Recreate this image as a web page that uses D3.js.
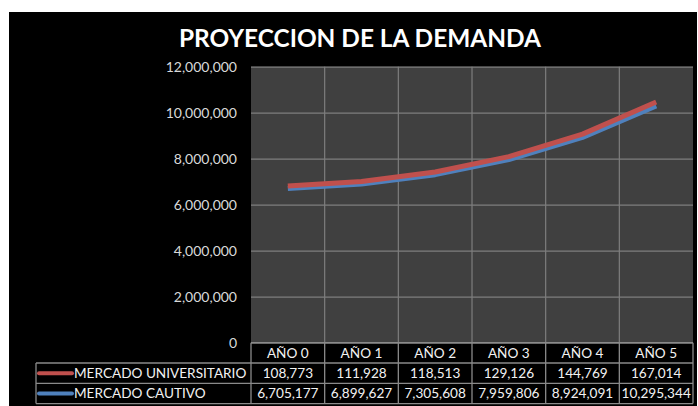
<!DOCTYPE html>
<html>
<head>
<meta charset="utf-8">
<script src="https://d3js.org/d3.v7.min.js"></script>
<style>
	body { margin: 0; background: #ffffff; }
	svg text { font-family: Lato, "Open Sans", sans-serif; }
</style>
</head>
<body>
<div id="chartDiv"></div>
<script>

// Data:

var years         = ["AÑO 0", "AÑO 1", "AÑO 2", "AÑO 3", "AÑO 4", "AÑO 5"];
var universitario = [108773, 111928, 118513, 129126, 144769, 167014];
var cautivo       = [6705177, 6899627, 7305608, 7959806, 8924091, 10295344];
var yTicks        = [0, 2000000, 4000000, 6000000, 8000000, 10000000, 12000000];

var seriesNames   = ["MERCADO UNIVERSITARIO", "MERCADO CAUTIVO"];
var seriesKeys    = ["universitario", "cautivo"];
var seriesColors  = { universitario: "#c0504d", cautivo: "#4f81bd" };

// Layout constants
var WIDTH      = 698;
var HEIGHT     = 406;
var PLOT_LEFT  = 251;
var PLOT_RIGHT = 693;
var PLOT_TOP   = 66.7;
var PLOT_BOT   = 342.7;
var ROW_H      = 20.3;
var TABLE_LEFT = 36;

var svg = d3.select("#chartDiv").append("svg")
	.attr("width", WIDTH)
	.attr("height", HEIGHT);

// black chart area (white strip on top and left)
svg.append("rect")
	.attr("x", 9)
	.attr("y", 12)
	.attr("width", WIDTH - 10)
	.attr("height", HEIGHT - 12)
	.attr("fill", "#000000");

svg.append("text")
	.attr("x", 360)
	.attr("y", 47)
	.attr("text-anchor", "middle")
	.attr("font-size", 24)
	.attr("font-weight", "bold")
	.attr("fill", "#ffffff")
	.attr("textLength", 362)
	.attr("lengthAdjust", "spacingAndGlyphs")
	.text("PROYECCION DE LA DEMANDA");

var x = d3.scaleBand()
	.domain(years)
	.range([PLOT_LEFT, PLOT_RIGHT]);

var y = d3.scaleLinear()
	.domain([0, 12000000])
	.range([PLOT_BOT, PLOT_TOP]);

// plot background
svg.append("rect")
	.attr("x", PLOT_LEFT)
	.attr("y", PLOT_TOP)
	.attr("width", PLOT_RIGHT - PLOT_LEFT)
	.attr("height", PLOT_BOT - PLOT_TOP)
	.attr("fill", "#404040");

// horizontal gridlines + labels
var yAxis = d3.axisLeft(y)
	.tickValues(yTicks)
	.tickFormat(d3.format(","))
	.tickSize(-(PLOT_RIGHT - PLOT_LEFT))
	.tickPadding(14);

var yG = svg.append("g")
	.attr("transform", "translate(" + PLOT_LEFT + ",0)")
	.call(yAxis);
yG.select(".domain").remove();
yG.selectAll(".tick line")
	.attr("stroke", "#7e7e7e")
	.attr("stroke-width", 1.2);
yG.selectAll(".tick text")
	.attr("fill", "#d9d9d9")
	.attr("font-size", 14)
	.attr("font-family", "Lato, sans-serif");

// vertical gridlines between categories
var xBounds = years.slice(1).map(function(d) { return x(d); });
svg.append("g").selectAll("line")
	.data(xBounds)
	.join("line")
	  .attr("x1", function(d) { return d; })
	  .attr("x2", function(d) { return d; })
	  .attr("y1", PLOT_TOP)
	  .attr("y2", PLOT_BOT)
	  .attr("stroke", "#7e7e7e")
	  .attr("stroke-width", 1.2);

// stacked lines: cautivo at the bottom, universitario on top
var rows = years.map(function(d, i) {
	return { year: d, cautivo: cautivo[i], universitario: universitario[i] };
});
var stacked = d3.stack().keys(["cautivo", "universitario"])(rows);

var line = d3.line()
	.x(function(d) { return x(d.data.year) + x.bandwidth() / 2; })
	.y(function(d) { return y(d[1]); });

svg.append("g").selectAll("path")
	.data(stacked)
	.join("path")
	  .attr("d", line)
	  .attr("fill", "none")
	  .attr("stroke", function(d) { return seriesColors[d.key]; })
	  .attr("stroke-width", 5)
	  .attr("stroke-linejoin", "round");

/*---------------------------
| data table
-----------------*/

var tbl = svg.append("g");
var lineCol = "#8a8a8a";
var TXT_SIZE = 13.6;

// header cells
tbl.selectAll(".hdr")
	.data(years)
	.join("text")
	  .attr("class", "hdr")
	  .attr("x", function(d) { return x(d) + x.bandwidth() / 2; })
	  .attr("y", PLOT_BOT + ROW_H / 2 + 4.8)
	  .attr("text-anchor", "middle")
	  .attr("font-size", TXT_SIZE)
	  .attr("fill", "#f2f2f2")
	  .text(function(d) { return d; });

var seriesValues = { universitario: universitario, cautivo: cautivo };

seriesKeys.forEach(function(key, r) {
	var rowTop = PLOT_BOT + ROW_H * (r + 1);
	var mid = rowTop + ROW_H / 2;

	// legend key
	tbl.append("line")
		.attr("x1", 39)
		.attr("x2", 72)
		.attr("y1", mid)
		.attr("y2", mid)
		.attr("stroke", seriesColors[key])
		.attr("stroke-width", 4)
		.attr("stroke-linecap", "round");
	tbl.append("text")
		.attr("x", 74)
		.attr("y", mid + 4.8)
		.attr("font-size", TXT_SIZE)
		.attr("fill", "#f2f2f2")
		.text(seriesNames[r]);

	tbl.selectAll(".val" + r)
		.data(seriesValues[key])
		.join("text")
		  .attr("x", function(d, i) { return x(years[i]) + x.bandwidth() / 2; })
		  .attr("y", mid + 4.8)
		  .attr("text-anchor", "middle")
		  .attr("font-size", TXT_SIZE)
		  .attr("fill", "#f2f2f2")
		  .text(function(d) { return d3.format(",")(d); });
});

// table grid
var tableBot = PLOT_BOT + ROW_H * 3;
var hLines = [
	[PLOT_LEFT, PLOT_BOT],
	[TABLE_LEFT, PLOT_BOT + ROW_H],
	[TABLE_LEFT, PLOT_BOT + ROW_H * 2],
	[TABLE_LEFT, tableBot]
];
tbl.selectAll(".hl")
	.data(hLines)
	.join("line")
	  .attr("x1", function(d) { return d[0]; })
	  .attr("x2", PLOT_RIGHT)
	  .attr("y1", function(d) { return d[1]; })
	  .attr("y2", function(d) { return d[1]; })
	  .attr("stroke", lineCol)
	  .attr("stroke-width", 1.3);

var vLines = years.map(function(d) { return x(d); }).concat([PLOT_RIGHT]);
tbl.selectAll(".vl")
	.data(vLines)
	.join("line")
	  .attr("x1", function(d) { return d; })
	  .attr("x2", function(d) { return d; })
	  .attr("y1", PLOT_BOT)
	  .attr("y2", tableBot)
	  .attr("stroke", lineCol)
	  .attr("stroke-width", 1.3);

tbl.append("line")
	.attr("x1", TABLE_LEFT)
	.attr("x2", TABLE_LEFT)
	.attr("y1", PLOT_BOT + ROW_H)
	.attr("y2", tableBot)
	.attr("stroke", lineCol)
	.attr("stroke-width", 1.3);

</script>
</body>
</html>
